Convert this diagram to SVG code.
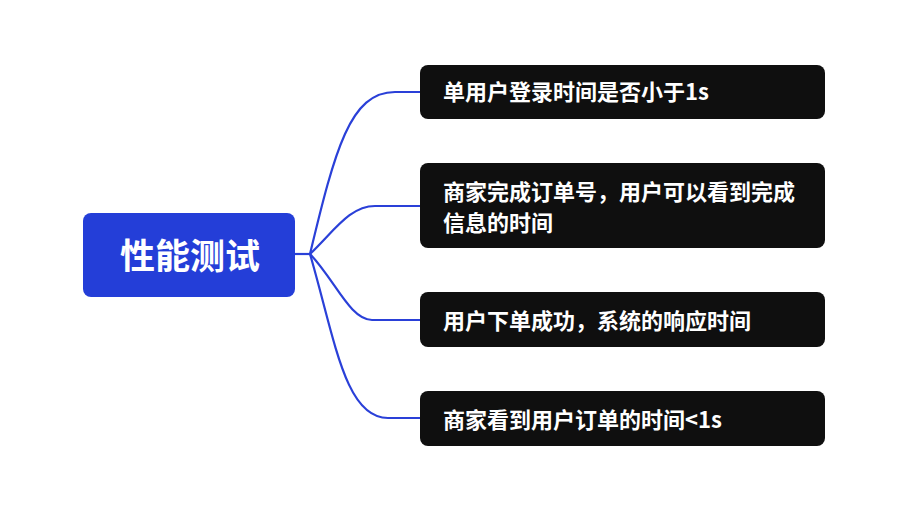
<svg xmlns="http://www.w3.org/2000/svg" width="910" height="519" viewBox="0 0 910 519">
<style>
.root{fill:#243ed8}
.leaf{fill:#0f0f0f}
.rt{fill:#fff;font-family:"Noto Sans CJK SC","Noto Sans",sans-serif;font-weight:700;font-size:35px}
.lt{fill:#fff;font-family:"Noto Sans CJK SC","Noto Sans",sans-serif;font-weight:700;font-size:22px}
.c{fill:none;stroke:#2a40d8;stroke-width:2.2}
</style>
<rect width="910" height="519" fill="#fff"/>
<g id="connectors">
<path class="c" d="M295 254 L310 254"/>
<path class="c" d="M310 254 C335 150 350 92 395 92 L420 92"/>
<path class="c" d="M310 254 C335 230 350 206 375 206 L420 206"/>
<path class="c" d="M310 254 C335 280 350 320 372 320 L420 320"/>
<path class="c" d="M310 254 C335 340 345 418 388 418 L420 418"/>
</g>
<g id="root">
<rect class="root" x="83" y="213" width="212" height="84" rx="8"/>
<text class="rt" x="120" y="269">性能测试</text>
</g>
<g id="n1">
<rect class="leaf" x="420" y="65" width="405" height="54" rx="8"/>
<text class="lt" x="443" y="100">单用户登录时间是否小于1s</text>
</g>
<g id="n2">
<rect class="leaf" x="420" y="163" width="405" height="85" rx="8"/>
<text class="lt" x="443" y="200">商家完成订单号，用户可以看到完成</text>
<text class="lt" x="443" y="231">信息的时间</text>
</g>
<g id="n3">
<rect class="leaf" x="420" y="292" width="405" height="55" rx="8"/>
<text class="lt" x="443" y="329">用户下单成功，系统的响应时间</text>
</g>
<g id="n4">
<rect class="leaf" x="420" y="391" width="405" height="55" rx="8"/>
<text class="lt" x="443" y="428">商家看到用户订单的时间&lt;1s</text>
</g>
</svg>
